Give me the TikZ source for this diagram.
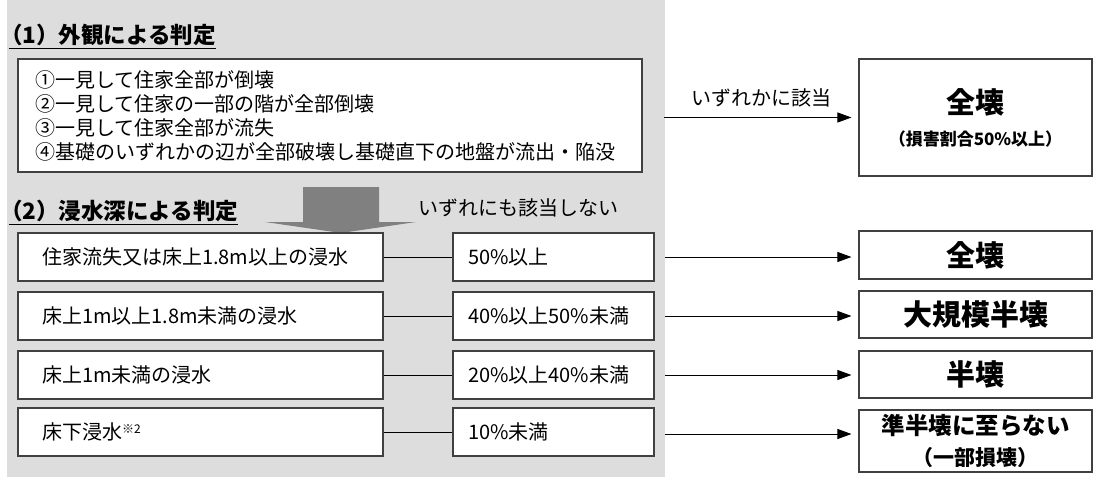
\documentclass[tikz,border=0pt]{standalone}
\usepackage{fontspec}
\setmainfont{Noto Sans CJK JP}
\usetikzlibrary{arrows.meta,calc}
\definecolor{bggray}{HTML}{DDDDDD}
\definecolor{arrowgray}{HTML}{808080}
\definecolor{edge}{HTML}{404040}
\begin{document}
\begin{tikzpicture}[x=1pt,y=-1pt,
  box/.style={draw=edge, line width=1.1pt, fill=white, inner ysep=0pt},
  lbox/.style={box, minimum height=48pt, inner xsep=24pt, text width=317pt, align=left, font=\fontsize{20}{22}\selectfont},
  mbox/.style={box, minimum height=48pt, inner xsep=15pt, text width=171pt, align=left, font=\fontsize{20}{22}\selectfont},
  rbox/.style={box, minimum width=233pt, inner xsep=0pt, align=center, font=\bfseries},
  head/.style={anchor=west, inner sep=0pt, font=\bfseries\fontsize{22.5}{24}\selectfont},
  lab/.style={inner sep=0pt, font=\fontsize{20}{22}\selectfont},
  conn/.style={line width=0.9pt, draw=black},
  arr/.style={conn, -{Triangle[length=14pt,width=10pt]}, shorten >=7pt}]
\useasboundingbox (0,0) rectangle (1094,477);
\fill[bggray] (7,0) rectangle (665,477);

% headers
\node[head] (h1) at (0,35) {（1）外観による判定};
\draw[line width=1.5pt] ($(h1.base west)+(9,5)$) -- ($(h1.base east)+(0,5)$);
\node[head] (h2) at (0,211) {（2）浸水深による判定};
\draw[line width=1.5pt] ($(h2.base west)+(9,5)$) -- ($(h2.base east)+(0,5)$);

% appearance box
\node[box, minimum height=113pt, inner xsep=17pt, text width=590pt, align=left,
      font=\fontsize{20}{24}\selectfont] (b1) at (330,115.5)
  {①一見して住家全部が倒壊\\②一見して住家の一部の階が全部倒壊\\③一見して住家全部が流失\\④基礎のいずれかの辺が全部破壊し基礎直下の地盤が流出・陥没};

% big gray arrow
\fill[arrowgray] (303,187) -- (379,187) -- (379,222) -- (416,222) -- (341,233)
  -- (265,222) -- (303,222) -- cycle;

\node[lab] (nolab) at (518,208) {いずれにも該当しない};

% rows
\node[lbox] (l1) at (200.5,257) {住家流失又は床上1.8m以上の浸水};
\node[lbox] (l2) at (200.5,316) {床上1m以上1.8m未満の浸水};
\node[lbox] (l3) at (200.5,375) {床上1m未満の浸水};
\node[lbox] (l4) at (200.5,432) {床下浸水\raisebox{6pt}{\fontsize{12}{12}\selectfont ※2}};

\node[mbox] (m1) at (553.5,257) {50\%以上};
\node[mbox] (m2) at (553.5,316) {40\%以上50\%未満};
\node[mbox] (m3) at (553.5,375) {20\%以上40\%未満};
\node[mbox] (m4) at (553.5,432) {10\%未満};

\draw[conn] (l1) -- (m1);
\draw[conn] (l2) -- (m2);
\draw[conn] (l3) -- (m3);
\draw[conn] (l4) -- (m4);

% result boxes
\node[rbox, minimum height=117pt] (r0) at (975.5,117.5)
  {\vbox{\baselineskip=32pt \lineskiplimit=-100pt
    \halign{\hfil#\hfil\cr
      {\fontsize{29}{29}\selectfont 全壊}\cr
      {\fontsize{17}{17}\selectfont （損害割合50\%以上）}\cr}}};
\node[rbox, minimum height=48pt, font=\bfseries\fontsize{29}{32}\selectfont] (r1) at (975.5,255) {全壊};
\node[rbox, minimum height=47pt, font=\bfseries\fontsize{29}{32}\selectfont] (r2) at (975.5,314.5) {大規模半壊};
\node[rbox, minimum height=47pt, font=\bfseries\fontsize{29}{32}\selectfont] (r3) at (975.5,374.5) {半壊};
\node[rbox, minimum height=62pt, font=\bfseries\fontsize{23.5}{31}\selectfont] (r4) at (975.5,441)
  {準半壊に至らない\\{\fontsize{21}{26}\selectfont （一部損壊）}};

% connectors to results
\coordinate (g0) at (664,117.5);
\coordinate (g1) at (665,257);
\coordinate (g2) at (665,316);
\coordinate (g3) at (665,375);
\coordinate (g4) at (665,434);
\draw[arr] (g0) -- node[lab, above=10pt] (yeslab) {いずれかに該当} (g0 -| r0.west);
\draw[arr] (g1) -- (g1 -| r1.west);
\draw[arr] (g2) -- (g2 -| r2.west);
\draw[arr] (g3) -- (g3 -| r3.west);
\draw[arr] (g4) -- (g4 -| r4.west);
\end{tikzpicture}
\end{document}
